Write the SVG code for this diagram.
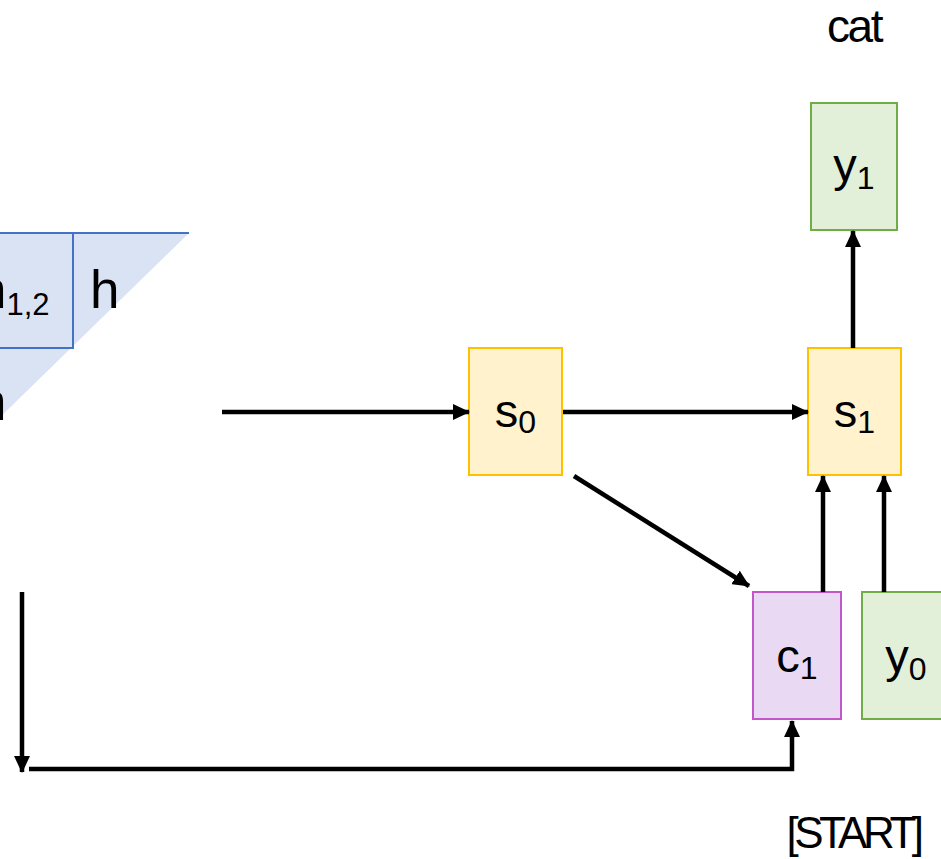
<svg xmlns="http://www.w3.org/2000/svg" width="941" height="859" viewBox="0 0 941 859">
<style>
text{font-family:"Liberation Sans",Arial,sans-serif;fill:#000}
.lbl{font-size:47px;text-anchor:middle}
.sub{font-size:32px}
.conn{stroke:#000;stroke-width:4.5;fill:none}
.yel{fill:#FFF2CC;stroke:#FFC000;stroke-width:2}
.grn{fill:#E2F0D9;stroke:#70AD47;stroke-width:2}
.pur{fill:#EAD9F2;stroke:#C456CC;stroke-width:2}
.blu{fill:#DAE3F3;stroke:#4472C4;stroke-width:2}
</style>
<defs>
<marker id="ah" markerUnits="userSpaceOnUse" markerWidth="17" markerHeight="16" refX="16" refY="8" orient="auto">
<path d="M0,0 L17,8 L0,16 z" fill="#000"/>
</marker>
</defs>
<rect width="941" height="859" fill="#fff"/>
<g id="encoder">
<polygon points="-10,233 189,233 -10,427" fill="#DAE3F3"/>
<line x1="-10" y1="233" x2="189" y2="233" stroke="#4472C4" stroke-width="2"/>
<rect class="blu" x="-60" y="233" width="133" height="115"/>
<text x="-23" y="308" font-size="53">h<tspan font-size="31" dy="7">1,2</tspan></text>
<text x="90" y="308" font-size="53">h</text>
<text x="-23" y="420" font-size="53">h</text>
</g>
<g id="s0"><rect class="yel" x="469" y="348" width="93" height="127"/><text class="lbl" x="515.5" y="427">s<tspan class="sub" dy="6">0</tspan></text></g>
<g id="s1"><rect class="yel" x="808" y="348" width="93" height="127"/><text class="lbl" x="854.5" y="427">s<tspan class="sub" dy="6">1</tspan></text></g>
<g id="y1"><rect class="grn" x="811" y="103" width="86" height="127"/><text class="lbl" x="854" y="181">y<tspan class="sub" dy="8">1</tspan></text></g>
<g id="c1"><rect class="pur" x="753" y="592" width="88" height="127"/><text class="lbl" x="797" y="672">c<tspan class="sub" dy="7">1</tspan></text></g>
<g id="y0"><rect class="grn" x="862" y="592" width="88" height="127"/><text class="lbl" x="906" y="672">y<tspan class="sub" dy="8">0</tspan></text></g>
<g id="cat"><text x="854" y="42" font-size="46" text-anchor="middle" letter-spacing="-2.5">cat</text></g>
<g id="start"><text x="853" y="848" font-size="44" text-anchor="middle" letter-spacing="-4.5">[START]</text></g>
<g id="connectors">
<line class="conn" x1="222" y1="412" x2="469" y2="412" marker-end="url(#ah)"/>
<line class="conn" x1="563" y1="412" x2="808" y2="412" marker-end="url(#ah)"/>
<line class="conn" x1="574" y1="476" x2="749" y2="586" marker-end="url(#ah)"/>
<line class="conn" x1="823" y1="592" x2="823" y2="476" marker-end="url(#ah)"/>
<line class="conn" x1="884" y1="592" x2="884" y2="476" marker-end="url(#ah)"/>
<line class="conn" x1="853" y1="348" x2="853" y2="231" marker-end="url(#ah)"/>
<line class="conn" x1="22" y1="592" x2="22" y2="772" marker-end="url(#ah)"/>
<polyline class="conn" points="29,769 792,769 792,721" marker-end="url(#ah)"/>
</g>
</svg>
